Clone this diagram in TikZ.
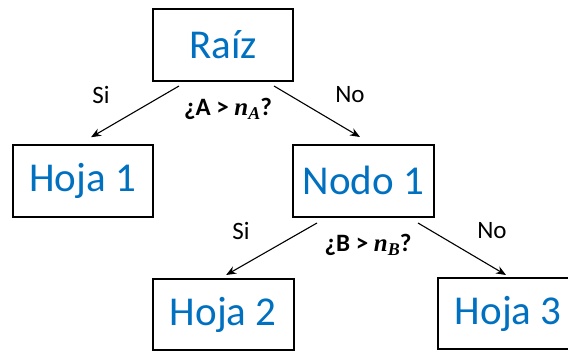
\documentclass[tikz,border=0pt]{standalone}
\usepackage{fontspec}
\setmainfont{Carlito}
\newfontfamily\varserif{Liberation Serif}
\usetikzlibrary{arrows.meta}
\definecolor{leafblue}{HTML}{0070C0}
% bold italic variable with a lowered subscript
\newcommand{\threshold}[1]{{\varserif\bfseries\itshape n\raisebox{-0.35ex}{\fontsize{18}{20}\selectfont #1}}}
\tikzset{
  treebox/.style={draw=black, line width=2pt, rectangle, inner sep=0pt,
    font=\fontsize{41}{46}\selectfont, text=leafblue},
  arr/.style={line width=1.1pt, -{Stealth[length=10pt,width=8pt]}},
  branch/.style={font=\fontsize{25}{28}\selectfont},
  question/.style={font=\fontsize{25}{28}\selectfont\bfseries}
}
\begin{document}
\begin{tikzpicture}[x=1pt, y=-1pt]
  \useasboundingbox (0,0) rectangle (568,351);
  \fill[white] (0,0) rectangle (568,351);

  % tree nodes
  \node[treebox, minimum width=140pt, minimum height=72pt] (raiz) at (223,45) {Raíz};
  \node[treebox, minimum width=140.5pt, minimum height=72.5pt] (hoja1) at (82.75,181) {Hoja 1};
  \node[treebox, minimum width=141pt, minimum height=72pt] (nodo1) at (363.5,180.5) {Nodo 1};
  \node[treebox, minimum width=141pt, minimum height=71pt] (hoja2) at (223.3,314.8) {Hoja 2};
  \node[treebox, minimum width=133pt, minimum height=71pt] (hoja3) at (504.8,313.8) {\hspace*{7pt}Hoja 3};

  % first split
  \draw[arr] ([shift={(27pt,-4pt)}]raiz.south west) -- ([shift={(79.5pt,6.5pt)}]hoja1.north west);
  \draw[arr] ([shift={(-20pt,-4pt)}]raiz.south east) -- ([shift={(68pt,6.5pt)}]nodo1.north west);
  \node[branch] (si1) at (101,95) {Si};
  \node[branch] (no1) at (350,95) {No};
  \node[question] (qa) at (228,109) {¿A > \threshold{A}?};

  % second split
  \draw[arr] ([shift={(25pt,-5.5pt)}]nodo1.south west) -- ([shift={(74.3pt,3.3pt)}]hoja2.north west);
  \draw[arr] ([shift={(-17pt,-5.5pt)}]nodo1.south east) -- ([shift={(68.7pt,2.3pt)}]hoja3.north west);
  \node[branch] (si2) at (241,231) {Si};
  \node[branch] (no2) at (492,231) {No};
  \node[question] (qb) at (368,245) {¿B > \threshold{B}?};
\end{tikzpicture}
\end{document}
